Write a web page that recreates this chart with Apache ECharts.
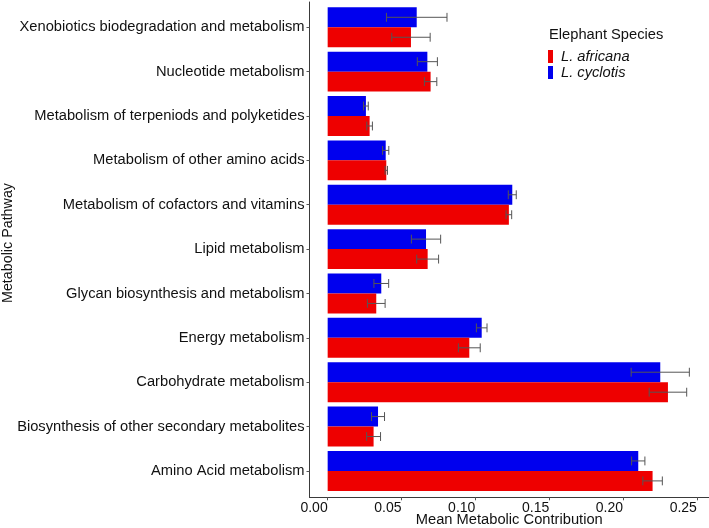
<!DOCTYPE html>
<html>
<head>
<meta charset="utf-8">
<script src="https://cdn.jsdelivr.net/npm/echarts@6/dist/echarts.min.js"></script>
<style>
  html, body { margin: 0; padding: 0; background: #fff; }
  #chart { width: 709px; height: 528px; }
</style>
</head>
<body>
<div id="chart"></div>
<script>
// pathways, bottom to top (as on the axis)
var pathways = [
  'Amino Acid metabolism',
  'Biosynthesis of other secondary metabolites',
  'Carbohydrate metabolism',
  'Energy metabolism',
  'Glycan biosynthesis and metabolism',
  'Lipid metabolism',
  'Metabolism of cofactors and vitamins',
  'Metabolism of other amino acids',
  'Metabolism of terpeniods and polyketides',
  'Nucleotide metabolism',
  'Xenobiotics biodegradation and metabolism'
];
var cyclotisMean = [0.2103, 0.0341, 0.2252, 0.1043, 0.0363, 0.0666, 0.1250, 0.0393, 0.0259, 0.0675, 0.0603];
var cyclotisErr  = [0.0045, 0.0044, 0.0197, 0.0036, 0.0050, 0.0099, 0.0027, 0.0021, 0.0016, 0.0068, 0.0205];
var africanaMean = [0.2200, 0.0311, 0.2304, 0.0959, 0.0329, 0.0677, 0.1227, 0.0397, 0.0284, 0.0697, 0.0564];
var africanaErr  = [0.0066, 0.0047, 0.0127, 0.0074, 0.0060, 0.0074, 0.0019, 0.0008, 0.0019, 0.0042, 0.0130];
var xTicks = [0, 0.05, 0.10, 0.15, 0.20, 0.25];

var FONT = '"Liberation Sans", Arial, sans-serif';
var TXT = '#111';
var X_MIN = -0.0123, X_MAX = 0.2582;

// 误差线数据: [均值, 序号, 误差]
var errData = function(means, errs) {
  var out = [];
  for (var i = 0; i < means.length; i++) out.push([means[i], i, errs[i]]);
  return out;
};

// 绘制误差线 (sign: -1 上半, +1 下半)
var errRenderer = function(sign) {
  return function(params, api) {
    var v = api.value(0), i = api.value(1), e = api.value(2);
    var band = api.size([0, 1])[1];
    var dy = sign * band * 0.225;
    var lo = api.coord([v - e, i]), hi = api.coord([v + e, i]);
    var y = lo[1] + dy, cap = band * 0.1;
    var style = { stroke: '#555', lineWidth: 1 };
    return {
      type: 'group',
      children: [
        { type: 'line', shape: { x1: lo[0], y1: y, x2: hi[0], y2: y }, style: style },
        { type: 'line', shape: { x1: lo[0], y1: y - cap, x2: lo[0], y2: y + cap }, style: style },
        { type: 'line', shape: { x1: hi[0], y1: y - cap, x2: hi[0], y2: y + cap }, style: style }
      ]
    };
  };
};

var chart = echarts.init(document.getElementById('chart'));
chart.setOption({
  animation: false,
  backgroundColor: '#fff',
  textStyle: { fontFamily: FONT },
  title: {
    text: 'Elephant Species',
    left: 549, top: 27, padding: 0,
    textStyle: { fontFamily: FONT, fontSize: 14.7, fontWeight: 'normal', color: TXT }
  },
  legend: {
    data: ['L. africana', 'L. cyclotis'],
    orient: 'vertical',
    left: 548, top: 49, padding: 0,
    icon: 'rect', itemWidth: 5, itemHeight: 13, itemGap: 1,
    textStyle: { fontFamily: FONT, fontSize: 14.7, fontStyle: 'italic', color: TXT, lineHeight: 13, padding: [0, 0, 0, 3] }
  },
  graphic: [{
    type: 'text', x: 8.5, y: 243, rotation: Math.PI / 2,
    style: { text: 'Metabolic Pathway', fontFamily: FONT, fontSize: 14.3, fill: TXT, align: 'center', verticalAlign: 'middle' }
  }],
  grid: [
    { left: 309.5, right: 0, top: 2, bottom: 30.7, containLabel: false, outerBoundsMode: 'none' },
    { left: 309.5, right: 0, top: 5.1, height: 488, containLabel: false, outerBoundsMode: 'none' }
  ],
  xAxis: [{
    gridIndex: 0, type: 'value', min: X_MIN, max: X_MAX,
    axisLine: { show: true, onZero: false, lineStyle: { color: '#3a3a3a', width: 1 } },
    axisTick: { show: true, length: 3, customValues: xTicks, lineStyle: { color: '#555' } },
    axisLabel: {
      customValues: xTicks, align: 'right', margin: 4,
      fontFamily: FONT, fontSize: 14, color: TXT,
      formatter: function(v) { return v.toFixed(2); }
    },
    splitLine: { show: false },
    name: 'Mean Metabolic Contribution', nameLocation: 'middle', nameGap: 15, nameMoveOverlap: false,
    nameTextStyle: { fontFamily: FONT, fontSize: 14.7, color: TXT }
  }, {
    gridIndex: 1, type: 'value', min: X_MIN, max: X_MAX, show: false
  }],
  yAxis: [{
    gridIndex: 0, type: 'value', min: 0, max: 1,
    axisLine: { show: true, onZero: false, lineStyle: { color: '#3a3a3a', width: 1 } },
    axisTick: { show: false }, axisLabel: { show: false }, splitLine: { show: false }
  }, {
    gridIndex: 1, type: 'category', data: pathways,
    axisLine: { show: false, onZero: false },
    axisTick: { show: true, alignWithLabel: true, length: 3, lineStyle: { color: '#555' } },
    axisLabel: { margin: 5, fontFamily: FONT, fontSize: 14.7, color: TXT },
    splitLine: { show: false }
  }],
  series: [{
    name: 'L. cyclotis', type: 'bar', xAxisIndex: 1, yAxisIndex: 1,
    data: cyclotisMean, barGap: '0%', barCategoryGap: '10%',
    itemStyle: { color: '#0000ee' }
  }, {
    name: 'L. africana', type: 'bar', xAxisIndex: 1, yAxisIndex: 1,
    data: africanaMean, barGap: '0%', barCategoryGap: '10%',
    itemStyle: { color: '#ee0000' }
  }, {
    name: 'cyclotis-err', type: 'custom', xAxisIndex: 1, yAxisIndex: 1, z: 5,
    renderItem: errRenderer(-1), encode: { x: 0, y: 1 },
    data: errData(cyclotisMean, cyclotisErr)
  }, {
    name: 'africana-err', type: 'custom', xAxisIndex: 1, yAxisIndex: 1, z: 5,
    renderItem: errRenderer(1), encode: { x: 0, y: 1 },
    data: errData(africanaMean, africanaErr)
  }]
});
</script>
</body>
</html>
